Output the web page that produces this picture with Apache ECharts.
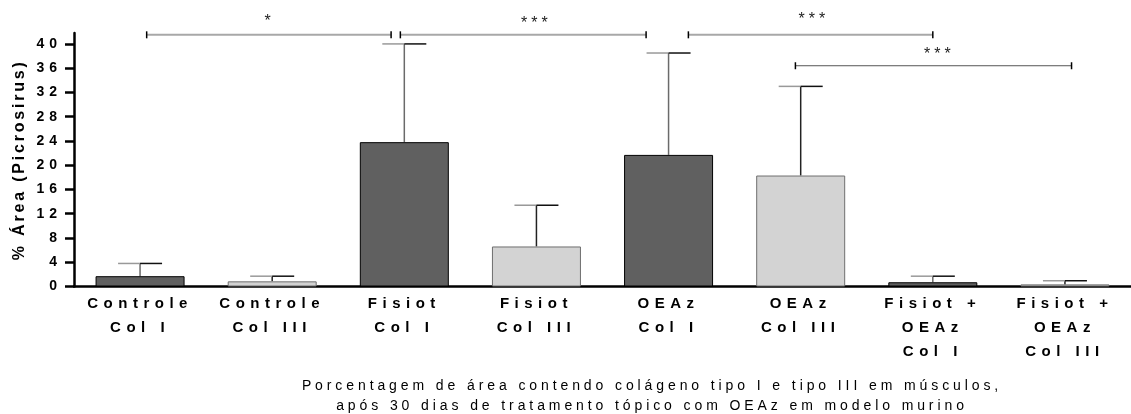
<!DOCTYPE html>
<html><head><meta charset="utf-8">
<script src="https://cdn.jsdelivr.net/npm/echarts@6/dist/echarts.min.js"></script>
<style>html,body{margin:0;padding:0;background:#fff}#c{width:1131px;height:414px}</style>
</head><body><div id="c"></div>
<script>
// ---- data ----
const categories = ['Controle\nCol I','Controle\nCol III','Fisiot\nCol I','Fisiot\nCol III','OEAz\nCol I','OEAz\nCol III','Fisiot +\nOEAz\nCol I','Fisiot +\nOEAz\nCol III'];
const meanValues  = [1.7, 0.85, 23.8, 6.6, 21.7, 18.3, 0.7, 0.35];
const upperValues = [3.8, 1.7, 40.0, 13.4, 38.5, 33.0, 1.7, 0.95];
const yTickValues = [0, 4, 8, 12, 16, 20, 24, 28, 32, 36, 40];
// brackets: [from (category units), to, y, star x, star y]
const bracketFrom = [0.05, 1.97, 4.15, 4.96];
const bracketTo   = [1.90, 3.83, 6.00, 7.05];
const bracketY    = [41.5, 41.5, 41.5, 36.4];
const starX       = [0.98, 3.0, 5.1, 6.05];
const starY       = [43.7, 43.4, 44.0, 38.2];
const starLabels  = ['*', '***', '***', '***'];
const titleText = 'Porcentagem de área contendo colágeno tipo I e tipo III em músculos,\napós 30 dias de tratamento tópico com OEAz em modelo murino';

// letter spacing emulation for the spaced-out typography of the original
(function(){
  const P = CanvasRenderingContext2D.prototype;
  const orig = P.fillText;
  P.fillText = function(t, x, y, m){
    const f = this.font || '';
    const bold = /bold|700/.test(f);
    let s = '0px';
    if (bold && /\b15px/.test(f)) s = '5.5px';       // x labels
    else if (bold && /\b14px/.test(f)) s = '5px';    // y labels
    else if (bold && /\b16px/.test(f)) s = '2.8px';  // y name
    else if (!bold && /\b14px/.test(f)) s = '3.9px'; // title
    else if (!bold && /\b16px/.test(f)) s = '4px';   // stars
    try { this.letterSpacing = s; } catch(e){}
    return m === undefined ? orig.call(this, t, x, y) : orig.call(this, t, x, y, m);
  };
})();

const chart = echarts.init(document.getElementById('c'), null, {renderer:'canvas'});
const FONT = 'Arial, "Liberation Sans", sans-serif';

const barData = meanValues.map((v, i) => ({
  value: v,
  itemStyle: i % 2 === 0
    ? {color:'#606060', borderColor:'#000', borderWidth:1}
    : {color:'#d3d3d3', borderColor:'#6e6e6e', borderWidth:1}
}));
const errData = meanValues.map((v, i) => [i, v, upperValues[i]]);
const brData = bracketFrom.map((v, i) => [v, bracketTo[i], bracketY[i], starX[i], starY[i]]);

chart.setOption({
  animation:false,
  backgroundColor:'#fff',
  title:{
    text:titleText, left:647, top:371, textAlign:'center',
    textStyle:{fontFamily:FONT, fontSize:14, fontWeight:'normal', color:'#000', lineHeight:20}
  },
  grid:{left:74, right:-11, top:33, bottom:127.5, containLabel:false},
  xAxis:[{
    type:'category', data:categories, boundaryGap:true,
    axisLine:{lineStyle:{color:'#000', width:2.5}},
    axisTick:{alignWithLabel:true, length:6, lineStyle:{color:'#000', width:2.5}},
    axisLabel:{interval:0, margin:5, fontFamily:FONT, fontSize:15, fontWeight:'bold', color:'#000', lineHeight:24}
  },{
    type:'value', min:-0.5, max:7.5, show:false
  }],
  yAxis:{
    type:'value', min:0, max:41.8,
    name:'% Área (Picrosirus)', nameLocation:'middle', nameGap:46,
    nameTextStyle:{fontFamily:FONT, fontSize:16, fontWeight:'bold', color:'#000'},
    axisLine:{show:true, onZero:false, lineStyle:{color:'#000', width:2.5}},
    axisTick:{show:true, length:9, customValues:yTickValues, lineStyle:{color:'#000', width:2.5}},
    axisLabel:{customValues:yTickValues, margin:12, fontFamily:FONT, fontSize:14, fontWeight:'bold', color:'#000'},
    splitLine:{show:false}
  },
  series:[{
    type:'bar', data:barData, barWidth:89, z:3
  },{
    type:'custom', data:errData, z:2,
    renderItem:function(params, api){
      const i = api.value(0);
      const top = api.coord([i, api.value(1)]);
      const cap = api.coord([i, api.value(2)]);
      const hw = 22;
      const stem = params.dataIndex % 2 === 0 ? '#6a6a6a' : '#222';
      return {type:'group', children:[
        {type:'line', shape:{x1:cap[0], y1:cap[1], x2:cap[0], y2:top[1]}, style:{stroke:stem, lineWidth:1.5}},
        {type:'line', shape:{x1:cap[0]-hw, y1:cap[1], x2:cap[0], y2:cap[1]}, style:{stroke:'#999', lineWidth:1.5}},
        {type:'line', shape:{x1:cap[0], y1:cap[1], x2:cap[0]+hw, y2:cap[1]}, style:{stroke:'#111', lineWidth:1.5}}
      ]};
    }
  },{
    type:'custom', data:brData, xAxisIndex:1, yAxisIndex:0, z:4,
    renderItem:function(params, api){
      const a = api.coord([api.value(0), api.value(2)]);
      const b = api.coord([api.value(1), api.value(2)]);
      const s = api.coord([api.value(3), api.value(4)]);
      const lc = params.dataIndex === 3 ? '#555' : '#a8a8a8';
      const lw = params.dataIndex === 3 ? 1 : 2;
      return {type:'group', children:[
        {type:'line', shape:{x1:a[0], y1:a[1], x2:b[0], y2:b[1]}, style:{stroke:lc, lineWidth:lw}},
        {type:'line', shape:{x1:a[0], y1:a[1]-3.5, x2:a[0], y2:a[1]+3.5}, style:{stroke:'#000', lineWidth:1.5}},
        {type:'line', shape:{x1:b[0], y1:b[1]-3.5, x2:b[0], y2:b[1]+3.5}, style:{stroke:'#000', lineWidth:1.5}},
        {type:'text', x:s[0], y:s[1], style:{text:starLabels[params.dataIndex], fontFamily:FONT, fontSize:16, fill:'#222', align:'center', verticalAlign:'middle'}}
      ]};
    }
  }]
});
</script>
</body></html>
